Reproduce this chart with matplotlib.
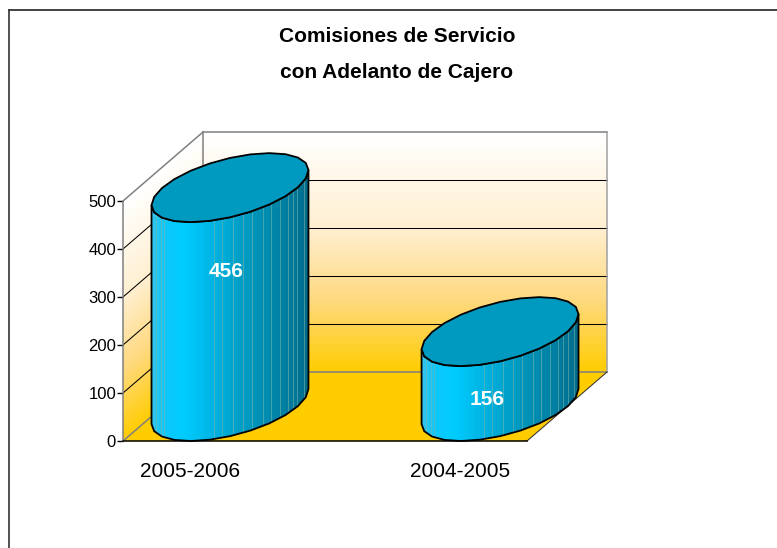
import numpy as np
import matplotlib
matplotlib.use('Agg')
import matplotlib.pyplot as plt
from matplotlib.colors import LinearSegmentedColormap
from matplotlib.lines import Line2D
from matplotlib.patches import Polygon, Rectangle

categories = ['2005-2006', '2004-2005']
values = [456, 156]
y_ticks = [0, 100, 200, 300, 400, 500]
title_lines = ['Comisiones de Servicio', 'con Adelanto de Cajero']

plt.rcParams['font.family'] = ['Liberation Sans']

W, H = 777, 548
fig = plt.figure(figsize=(W / 100, H / 100), dpi=100)
ax = fig.add_axes([123 / W, (H - 441) / H, 404 / W, 240 / H])
ax.set_xlim(-0.248, 1.248)
ax.set_ylim(0, 500)

# oblique depth of the chart box, in data units
depth_x = 80 / 270
depth_y = 69 / 0.48
x0, x1 = ax.get_xlim()
y_top = y_ticks[-1]

wall = LinearSegmentedColormap.from_list(
    'wall', [(0, '#FFCC00'), (0.3, '#FFD97F'), (0.6, '#FFEFD0'), (1, '#FFFFFF')])

# back wall and left wall gradients
rows = np.linspace(0, y_top, 121)
shade = ((rows[:-1] + rows[1:]) / 2 / y_top).reshape(-1, 1)
bx, by = np.meshgrid([x0 + depth_x, x1 + depth_x], rows + depth_y)
ax.pcolormesh(bx, by, shade, cmap=wall, vmin=0, vmax=1, clip_on=False, zorder=1)
lx, ly = np.meshgrid([x0, x0 + depth_x], rows)
ly[:, 1] += depth_y
ax.pcolormesh(lx, ly, shade, cmap=wall, vmin=0, vmax=1, clip_on=False, zorder=1)

# floor
ax.add_patch(Polygon([(x0, 0), (x1, 0), (x1 + depth_x, depth_y), (x0 + depth_x, depth_y)],
                     fc='#FFCC00', ec='none', clip_on=False, zorder=1))

# gridlines
for t in y_ticks:
    inner = t in (y_ticks[0], y_ticks[-1])
    col = '#808080' if inner else 'black'
    lw = 1.1 if inner else 0.75
    ax.plot([x0 + depth_x, x1 + depth_x], [t + depth_y, t + depth_y], color=col, lw=lw,
            clip_on=False, zorder=2)
    ax.plot([x0, x0 + depth_x], [t, t + depth_y], color=col, lw=lw, clip_on=False, zorder=2)
ax.plot([x0 + depth_x, x0 + depth_x], [depth_y, y_top + depth_y], color='#808080', lw=1.1,
        clip_on=False, zorder=2)
ax.plot([x1 + depth_x, x1 + depth_x], [depth_y, y_top + depth_y], color='#A0A0A0', lw=1.1,
        clip_on=False, zorder=2)
ax.plot([x1, x1 + depth_x], [0, depth_y], color='#333333', lw=0.75, clip_on=False, zorder=2)

# cylinders
half_w = 0.25
n_seg = 24
t0 = np.arctan2(depth_x / 2, half_w)
ang = t0 + 2 * np.pi * np.arange(n_seg + 1) / n_seg
front = t0 - 2 * np.pi * np.arange(n_seg // 2 + 1) / n_seg
side_stops = [(0, '#35C4EE'), (0.08, '#10C6F8'), (0.2, '#00CCFF'), (0.42, '#00B0DE'),
              (0.65, '#0094BA'), (0.85, '#007FA2'), (1, '#006A8A')]
side_cmap = LinearSegmentedColormap.from_list('side', side_stops)
edge_frac = [0.03, 0.06, 0.08, 0.40, 0.45, 0.52, 0.58, 0.64, 0.71, 0.76, 0.82, 0.87,
             0.90, 0.93, 0.97]


def ellipse(c, v, a):
    return (c + depth_x / 2 + half_w * np.cos(a) + depth_x / 2 * np.sin(a),
            v + depth_y / 2 + depth_y / 2 * np.sin(a))


for i, v in enumerate(values):
    tx, ty = ellipse(i, v, ang)
    fx, fy = ellipse(i, v, front)
    bx_, by_ = ellipse(i, 0, front)
    outline = np.r_[np.c_[fx, fy], np.c_[bx_, by_][::-1]]
    side = Polygon(outline, closed=True, fc='none', ec='none', clip_on=False, zorder=5)
    ax.add_patch(side)
    xl, xr = fx.min(), fx.max()
    strips = np.linspace(xl, xr, 41)
    for a, b in zip(strips[:-1], strips[1:]):
        f = ((a + b) / 2 - xl) / (xr - xl)
        r = Rectangle((a, 0), b - a + 0.001, y_top + 2 * depth_y, fc=side_cmap(f), ec='none',
                      zorder=5)
        ax.add_patch(r)
        r.set_clip_path(side)
        r.set_clip_box(fig.bbox)
    for f in edge_frac:
        xe = xl + f * (xr - xl)
        ln = ax.plot([xe, xe], [0, y_top + 2 * depth_y], color='#7FB8A8', lw=0.7, alpha=0.55,
                     zorder=5.1)[0]
        ln.set_clip_path(side)
        ln.set_clip_box(fig.bbox)
    ax.add_patch(Polygon(outline, closed=True, fc='none', ec='black', lw=1.3, clip_on=False,
                         zorder=5.2))
    ax.add_patch(Polygon(np.c_[tx, ty], closed=True, fc='#009AC0', ec='black', lw=1.3,
                         clip_on=False, zorder=5.3))

# value labels sit at hand-placed spots on the front of each cylinder
ax.text(0 + 36 / 270, 354, str(values[0]), color='white', fontweight='bold', fontsize=15,
        ha='center', va='center', zorder=6)
ax.text(1 + 27 / 270, 87, str(values[1]), color='white', fontweight='bold', fontsize=15,
        ha='center', va='center', zorder=6)

ax.set_xticks([0, 1], categories, fontsize=15)
ax.set_yticks(y_ticks)
ax.tick_params(axis='x', length=0, pad=15)
ax.tick_params(axis='y', length=4, width=1, labelsize=12, pad=1)
for s in ('top', 'right'):
    ax.spines[s].set_visible(False)
ax.spines['left'].set_color('#808080')
ax.spines['left'].set_linewidth(1.1)
ax.spines['bottom'].set_color('black')
ax.spines['bottom'].set_linewidth(1.1)
ax.patch.set_alpha(0)
for s in ax.spines.values():
    s.set_zorder(4)

fig.text(397 / W, 1 - 37 / H, title_lines[0], fontweight='bold', fontsize=15, ha='center', va='center')
fig.text(397 / W, 1 - 73 / H, title_lines[1], fontweight='bold', fontsize=15, ha='center', va='center')

# outer frame runs off the right and bottom of the image
fig.add_artist(Line2D([9 / W, 1], [1 - 10 / H, 1 - 10 / H], color='#222222', lw=1.2))
fig.add_artist(Line2D([9 / W, 9 / W], [0, 1 - 10 / H], color='#333333', lw=1.2))

fig.savefig('out.png', dpi=100)
